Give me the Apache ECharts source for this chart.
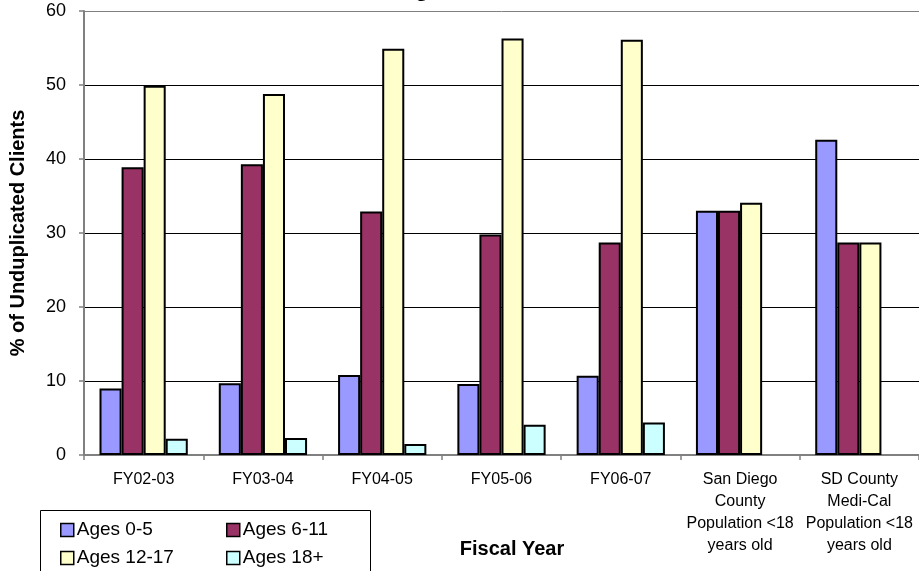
<!DOCTYPE html>
<html>
<head>
<meta charset="utf-8">
<script src="https://cdn.jsdelivr.net/npm/echarts@6/dist/echarts.min.js"></script>
<style>
  html, body { margin: 0; padding: 0; background: #fff; }
  #chart { width: 919px; height: 571px; }
</style>
</head>
<body>
<div id="chart"></div>
<script>
// Categories along the x axis
const categories = [
  'FY02-03', 'FY03-04', 'FY04-05', 'FY05-06', 'FY06-07',
  'San Diego\nCounty\nPopulation <18\nyears old',
  'SD County\nMedi-Cal\nPopulation <18\nyears old'
];

// Percent of unduplicated clients by age group
const ages0to5   = [9.0, 9.7, 10.8, 9.6, 10.7, 33.0, 42.6];
const ages6to11  = [38.9, 39.3, 32.9, 29.8, 28.7, 33.0, 28.7];
const ages12to17 = [49.9, 48.8, 54.9, 56.3, 56.1, 34.1, 28.7];
const ages18plus = [2.2, 2.3, 1.5, 4.1, 4.4, null, null];

const seriesNames = ['Ages 0-5', 'Ages 6-11', 'Ages 12-17', 'Ages 18+'];
const seriesColors = ['#9999FF', '#993366', '#FFFFCC', '#CCFFFF'];
const seriesData = [ages0to5, ages6to11, ages12to17, ages18plus];

const yTicks = [0, 10, 20, 30, 40, 50, 60];

const chart = echarts.init(document.getElementById('chart'));

const font = 'Arial, "Liberation Sans", sans-serif';

// Two vertical legend columns inside one framed box
const legendCommon = {
  orient: 'vertical',
  top: 515,
  height: 60,
  itemWidth: 13,
  itemHeight: 13,
  itemGap: 8,
  icon: 'rect',
  textStyle: { fontFamily: font, fontSize: 19, lineHeight: 20, color: '#000', padding: [0, 0, 0, -2] },
  itemStyle: { borderColor: '#000', borderWidth: 1.5 },
  selectedMode: false
};

chart.setOption({
  animation: false,
  backgroundColor: '#fff',
  grid: { left: 80, right: -1, top: 11, bottom: 116, containLabel: false },
  legend: [
    Object.assign({ left: 55, data: ['Ages 0-5', 'Ages 12-17'] }, legendCommon),
    Object.assign({ left: 221, data: ['Ages 6-11', 'Ages 18+'] }, legendCommon)
  ],
  xAxis: {
    type: 'category',
    data: categories,
    axisLine: { show: true, lineStyle: { color: '#808080', width: 2 } },
    axisTick: { show: true, length: 5, lineStyle: { color: '#808080', width: 1.5 } },
    axisLabel: {
      interval: 0,
      margin: 14,
      fontFamily: font,
      fontSize: 16,
      lineHeight: 22,
      color: '#000'
    },
    splitLine: { show: false }
  },
  yAxis: {
    type: 'value',
    min: yTicks[0],
    max: yTicks[yTicks.length - 1],
    interval: 10,
    name: '% of Unduplicated Clients',
    nameLocation: 'middle',
    nameGap: 56,
    nameTextStyle: { fontFamily: font, fontSize: 20, fontWeight: 'bold', color: '#000' },
    axisLine: { show: true, lineStyle: { color: '#808080', width: 2 } },
    axisTick: { show: true, length: 5, lineStyle: { color: '#808080', width: 1.5 } },
    axisLabel: { margin: 18, fontFamily: font, fontSize: 18, color: '#000' },
    splitLine: {
      show: true,
      lineStyle: { color: ['#000', '#000', '#000', '#000', '#000', '#000', '#808080'], width: 1 }
    }
  },
  series: seriesNames.map((name, i) => ({
    name: name,
    type: 'bar',
    data: seriesData[i],
    barGap: '0%',
    barCategoryGap: '26%',
    itemStyle: { color: seriesColors[i], borderColor: '#000', borderWidth: 2 }
  })),
  graphic: [
    {
      type: 'rect',
      shape: { x: 40.5, y: 510.5, width: 330, height: 80 },
      style: { fill: 'none', stroke: '#000', lineWidth: 1 },
      z: -1
    },
    {
      type: 'text',
      style: {
        x: 512, y: 549,
        text: 'Fiscal Year',
        font: 'bold 20px ' + font,
        fill: '#000',
        align: 'center',
        verticalAlign: 'middle'
      }
    },
    {
      type: 'text',
      style: {
        x: 452, y: 1,
        text: 'Client Age at Situation',
        font: 'bold 24px ' + font,
        fill: '#000',
        align: 'center',
        verticalAlign: 'bottom'
      }
    }
  ]
});
</script>
</body>
</html>
